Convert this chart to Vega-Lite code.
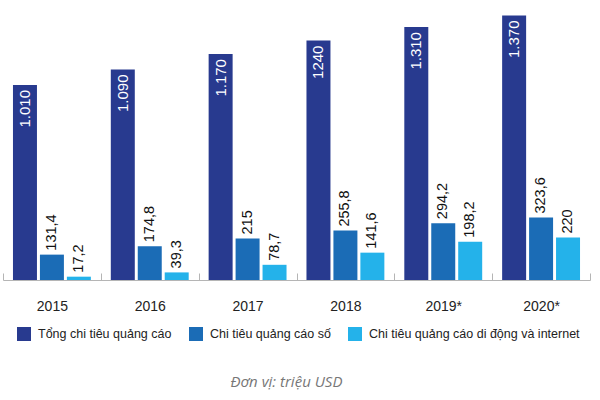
{
  "$schema": "https://vega.github.io/schema/vega-lite/v6.json",
  "width": 587,
  "height": 280,
  "autosize": {"type": "none"},
  "padding": {"left": 3, "top": 0, "right": 10, "bottom": 120},
  "background": "white",
  "config": {"view": {"stroke": null}},
  "title": {
    "text": "Đơn vị: triệu USD",
    "orient": "bottom",
    "anchor": "middle",
    "offset": 34,
    "dx": -10,
    "font": "Open Sans",
    "fontStyle": "italic",
    "fontWeight": "normal",
    "fontSize": 15,
    "color": "#777777"
  },
  "data": {
    "values": [
      {"year": "2015", "series": "Tổng chi tiêu quảng cáo", "value": 1010, "label": "1.010"},
      {"year": "2015", "series": "Chi tiêu quảng cáo số", "value": 131.4, "label": "131,4"},
      {"year": "2015", "series": "Chi tiêu quảng cáo di động và internet", "value": 17.2, "label": "17,2"},
      {"year": "2016", "series": "Tổng chi tiêu quảng cáo", "value": 1090, "label": "1.090"},
      {"year": "2016", "series": "Chi tiêu quảng cáo số", "value": 174.8, "label": "174,8"},
      {"year": "2016", "series": "Chi tiêu quảng cáo di động và internet", "value": 39.3, "label": "39,3"},
      {"year": "2017", "series": "Tổng chi tiêu quảng cáo", "value": 1170, "label": "1.170"},
      {"year": "2017", "series": "Chi tiêu quảng cáo số", "value": 215, "label": "215"},
      {"year": "2017", "series": "Chi tiêu quảng cáo di động và internet", "value": 78.7, "label": "78,7"},
      {"year": "2018", "series": "Tổng chi tiêu quảng cáo", "value": 1240, "label": "1240"},
      {"year": "2018", "series": "Chi tiêu quảng cáo số", "value": 255.8, "label": "255,8"},
      {"year": "2018", "series": "Chi tiêu quảng cáo di động và internet", "value": 141.6, "label": "141,6"},
      {"year": "2019*", "series": "Tổng chi tiêu quảng cáo", "value": 1310, "label": "1.310"},
      {"year": "2019*", "series": "Chi tiêu quảng cáo số", "value": 294.2, "label": "294,2"},
      {"year": "2019*", "series": "Chi tiêu quảng cáo di động và internet", "value": 198.2, "label": "198,2"},
      {"year": "2020*", "series": "Tổng chi tiêu quảng cáo", "value": 1370, "label": "1.370"},
      {"year": "2020*", "series": "Chi tiêu quảng cáo số", "value": 323.6, "label": "323,6"},
      {"year": "2020*", "series": "Chi tiêu quảng cáo di động và internet", "value": 220, "label": "220"}
    ]
  },
  "encoding": {
    "x": {
      "field": "year",
      "type": "nominal",
      "sort": null,
      "scale": {"paddingInner": 0, "paddingOuter": 0},
      "axis": {
        "title": null,
        "labelAngle": 0,
        "labelFont": "Liberation Sans",
        "labelFontSize": 14,
        "labelColor": "#222222",
        "labelPadding": 26,
        "domainColor": "#b5b5b5",
        "tickColor": "#b5b5b5",
        "tickBand": "extent",
        "tickSize": -7,
        "grid": false
      }
    },
    "xOffset": {
      "field": "series",
      "type": "nominal",
      "scale": {
        "domain": ["Tổng chi tiêu quảng cáo", "Chi tiêu quảng cáo số", "Chi tiêu quảng cáo di động và internet"],
        "paddingInner": 0.11,
        "paddingOuter": 0.37
      }
    },
    "y": {
      "field": "value",
      "type": "quantitative",
      "scale": {"domain": [0, 1450], "nice": false},
      "axis": null
    }
  },
  "layer": [
    {
      "mark": {"type": "bar"},
      "encoding": {
        "color": {
          "field": "series",
          "type": "nominal",
          "scale": {
            "domain": ["Tổng chi tiêu quảng cáo", "Chi tiêu quảng cáo số", "Chi tiêu quảng cáo di động và internet"],
            "range": ["#283a8f", "#1b6cb6", "#24b2ea"]
          },
          "legend": {
            "orient": "none",
            "legendX": 14,
            "legendY": 327,
            "direction": "horizontal",
            "columns": 3,
            "title": null,
            "symbolType": "square",
            "symbolSize": 196,
            "symbolStrokeWidth": 0,
            "symbolOpacity": 1,
            "labelFont": "Liberation Sans",
            "labelFontSize": 12.5,
            "labelColor": "#222222",
            "labelOffset": 7,
            "columnPadding": 17,
            "labelLimit": 400
          }
        }
      }
    },
    {
      "transform": [{"filter": "datum.series === 'Tổng chi tiêu quảng cáo'"}],
      "mark": {
        "type": "text",
        "angle": 270,
        "align": "right",
        "baseline": "middle",
        "dx": -5,
        "color": "white",
        "font": "Liberation Sans",
        "fontSize": 15
      },
      "encoding": {"text": {"field": "label"}}
    },
    {
      "transform": [{"filter": "datum.series !== 'Tổng chi tiêu quảng cáo'"}],
      "mark": {
        "type": "text",
        "angle": 270,
        "align": "left",
        "baseline": "middle",
        "dx": 4,
        "color": "#111111",
        "font": "Liberation Sans",
        "fontSize": 14.5
      },
      "encoding": {"text": {"field": "label"}}
    }
  ]
}
